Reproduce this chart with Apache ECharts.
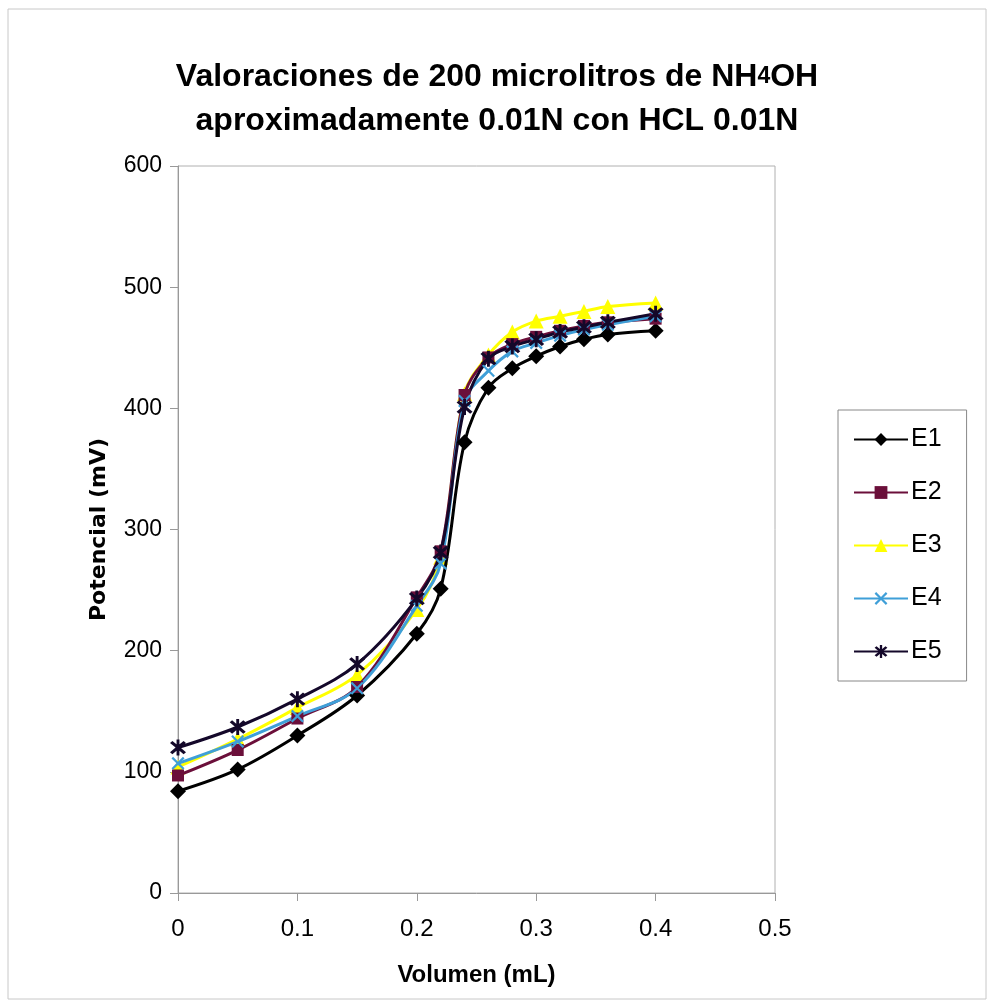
<!DOCTYPE html>
<html><head><meta charset="utf-8">
<script src="https://cdn.jsdelivr.net/npm/echarts@6/dist/echarts.min.js"></script>
<style>html,body{margin:0;padding:0;background:#fff}#c{width:994px;height:1008px}</style>
</head><body><div id="c"></div>
<script>
const volumen = [0, 0.05, 0.1, 0.15, 0.2, 0.22, 0.24, 0.26, 0.28, 0.3, 0.32, 0.34, 0.36, 0.4];
const E1 = [84, 102, 130, 163, 214, 251, 372, 417, 433, 443, 451, 457, 461, 464];
const E2 = [97, 118, 144, 170, 244, 282, 411, 442, 453, 459, 464, 468, 471, 474];
const E3 = [104, 127, 153, 180, 234, 277, 412, 444, 463, 472, 476, 480, 484, 487];
const E4 = [107, 125, 146, 169, 237, 272, 406, 431, 447, 454, 460, 465, 469, 476];
const E5 = [120, 137, 160, 189, 243, 281, 401, 441, 451, 457, 463, 467, 471, 478];
const seriesNames = ['E1', 'E2', 'E3', 'E4', 'E5'];
const yTicks = [0, 100, 200, 300, 400, 500, 600];
const xTicks = [0, 0.1, 0.2, 0.3, 0.4, 0.5];

const X_PATH = 'path://M0,1.2L1.2,0L5,3.8L8.8,0L10,1.2L6.2,5L10,8.8L8.8,10L5,6.2L1.2,10L0,8.8L3.8,5Z';
const STAR_PATH = 'path://M0,1.5L1.5,0L5,3.5L8.5,0L10,1.5L6.5,5L10,8.5L8.5,10L5,6.5L1.5,10L0,8.5L3.5,5Z M4.1,-1L5.9,-1L5.9,11L4.1,11Z';

const styles = [
  {color: '#000000', symbol: 'diamond', size: 16},
  {color: '#6b0f3a', symbol: 'rect', size: 12},
  {color: '#ffff00', symbol: 'triangle', size: 15},
  {color: '#3f9fd8', symbol: X_PATH, size: 13},
  {color: '#14082a', symbol: STAR_PATH, size: 16}
];
const values = [E1, E2, E3, E4, E5];

const chart = echarts.init(document.getElementById('c'));
const sans = "'Liberation Sans', Arial, sans-serif";
chart.setOption({
  backgroundColor: '#ffffff',
  animation: false,
  title: {
    text: 'Valoraciones de 200 microlitros de NH{s|4}OH\naproximadamente 0.01N con HCL 0.01N',
    left: 'center', top: 50,
    textStyle: {
      fontFamily: sans, fontWeight: 'bold', fontSize: 32, color: '#000', lineHeight: 44,
      rich: { s: { fontFamily: sans, fontWeight: 'bold', fontSize: 23, color: '#000', lineHeight: 44 } }
    }
  },
  graphic: [{
    type: 'rect', shape: {x: 8, y: 9, width: 978, height: 990},
    style: {fill: 'none', stroke: '#c8c8c8', lineWidth: 1}, silent: true, z: -10
  }],
  grid: {left: 178, top: 166, width: 597, height: 727, show: true, borderColor: '#b0b0b0', borderWidth: 1, backgroundColor: 'transparent'},
  legend: {
    orient: 'vertical', left: 838, top: 410,
    itemWidth: 54, itemHeight: 16, itemGap: 28,
    padding: [17, 25, 17, 15],
    borderColor: '#888', borderWidth: 1,
    textStyle: {fontFamily: sans, fontSize: 25, color: '#000', padding: [0, 0, 0, -2]},
    data: seriesNames
  },
  xAxis: {
    type: 'value', min: 0, max: 0.5, interval: 0.1,
    name: 'Volumen (mL)', nameLocation: 'middle', nameGap: 70,
    nameTextStyle: {fontFamily: sans, fontWeight: 'bold', fontSize: 24, color: '#000'},
    axisLine: {show: true, lineStyle: {color: '#999', width: 1}},
    axisTick: {show: true, inside: false, length: 8, lineStyle: {color: '#999'}},
    splitLine: {show: false},
    axisLabel: {margin: 24, fontFamily: sans, fontSize: 24, color: '#000',
      formatter: v => { const t = xTicks.find(x => Math.abs(x - v) < 1e-9); return t === undefined ? '' : String(t); }}
  },
  yAxis: {
    type: 'value', min: 0, max: 600, interval: 100,
    name: 'Potencial (mV)', nameLocation: 'middle', nameGap: 68,
    nameTextStyle: {fontFamily: "'DejaVu Sans', sans-serif", fontWeight: 'bold', fontSize: 22, color: '#000'},
    axisLine: {show: true, lineStyle: {color: '#999', width: 1}},
    axisTick: {show: true, inside: false, length: 8, lineStyle: {color: '#999'}},
    splitLine: {show: false},
    axisLabel: {margin: 16, fontFamily: sans, fontSize: 23, color: '#000',
      formatter: v => yTicks.includes(v) ? String(v) : ''}
  },
  series: values.map((vals, i) => ({
    name: seriesNames[i], type: 'line', smooth: 0.35,
    data: volumen.map((x, j) => [x, vals[j]]),
    symbol: styles[i].symbol, symbolSize: styles[i].size, showAllSymbol: true,
    itemStyle: {color: styles[i].color, borderWidth: 0},
    lineStyle: {color: styles[i].color, width: 3},
    z: i === 2 ? 2 : 3
  }))
});
</script></body></html>
